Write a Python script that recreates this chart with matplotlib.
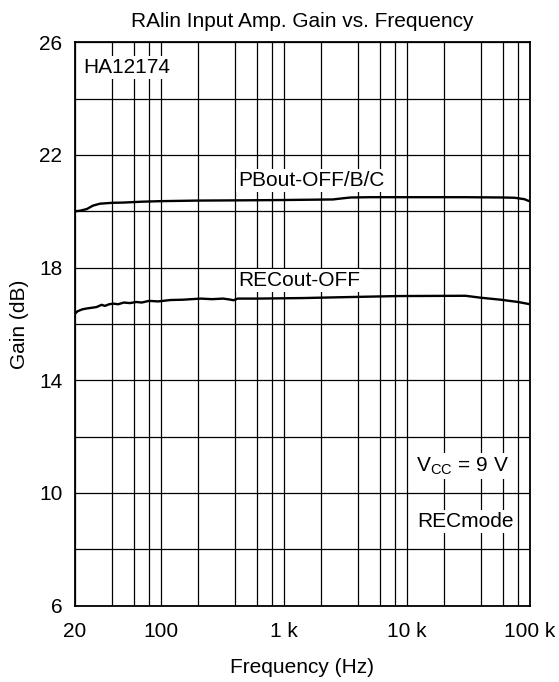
import matplotlib
matplotlib.use("Agg")
import matplotlib.pyplot as plt
from matplotlib.ticker import FixedLocator, NullLocator

plt.rcParams["font.family"] = ["Liberation Sans", "DejaVu Sans"]
plt.rcParams["mathtext.fontset"] = "custom"
plt.rcParams["mathtext.rm"] = "Liberation Sans"

# PBout-OFF/B/C curve
freq_pb = [20, 22, 25, 28, 32, 40, 50, 70, 100, 200, 500, 1000, 2500, 3000,
           3500, 5000, 10000, 30000, 60000, 75000, 90000, 100000]
gain_pb = [20.0, 20.02, 20.08, 20.2, 20.27, 20.3, 20.31, 20.34, 20.36, 20.38,
           20.39, 20.4, 20.42, 20.46, 20.49, 20.5, 20.5, 20.5, 20.49, 20.48,
           20.43, 20.35]

# RECout-OFF curve
freq_rec = [20, 21, 23, 25, 28, 30, 33, 35, 38, 41, 45, 50, 56, 63, 70, 80, 95,
            120, 150, 210, 260, 320, 360, 390, 420, 600, 1450, 3000, 8400,
            30000, 40000, 58000, 80000, 100000]
gain_rec = [16.36, 16.45, 16.52, 16.55, 16.58, 16.6, 16.68, 16.64, 16.7, 16.72,
            16.7, 16.76, 16.74, 16.78, 16.76, 16.82, 16.8, 16.85, 16.86, 16.9,
            16.88, 16.9, 16.87, 16.84, 16.9, 16.9, 16.92, 16.95, 16.99, 17.0,
            16.93, 16.86, 16.78, 16.7]

grid_freqs = [20, 40, 60, 80, 100, 200, 400, 600, 800, 1000, 2000, 4000, 6000,
              8000, 10000, 20000, 40000, 60000, 80000, 100000]
x_ticks = [20, 100, 1000, 10000, 100000]
x_tick_labels = ["20", "100", "1 k", "10 k", "100 k"]
y_ticks = [6, 10, 14, 18, 22, 26]
y_grid = [6, 8, 10, 12, 14, 16, 18, 20, 22, 24, 26]

fs = 15

fig = plt.figure(figsize=(5.59, 6.82), dpi=100)
ax = fig.add_axes([0.134, 0.112, 0.814, 0.826])

ax.set_xscale("log")
ax.set_xlim(20, 100000)
ax.set_ylim(6, 26)

for f in grid_freqs:
    ax.axvline(f, color="black", linewidth=0.9, zorder=1)
for g in y_grid:
    ax.axhline(g, color="black", linewidth=0.9, zorder=1)

ax.plot(freq_pb, gain_pb, color="black", linewidth=1.7, zorder=3)
ax.plot(freq_rec, gain_rec, color="black", linewidth=1.7, zorder=3)

ax.xaxis.set_major_locator(FixedLocator(x_ticks))
ax.xaxis.set_minor_locator(NullLocator())
ax.set_xticklabels(x_tick_labels)
ax.set_yticks(y_ticks)
ax.tick_params(axis="x", length=0, labelsize=fs, pad=12)
ax.tick_params(axis="y", length=0, labelsize=fs, pad=9)

for s in ax.spines.values():
    s.set_linewidth(1.3)
    s.set_zorder(4)

ax.set_title("RAlin Input Amp. Gain vs. Frequency", fontsize=fs, pad=11)
ax.set_xlabel("Frequency (Hz)", fontsize=fs, labelpad=12)
ax.set_ylabel("Gain (dB)", fontsize=fs, labelpad=7)

box = dict(facecolor="white", edgecolor="none", pad=1.5)
ax.text(23.5, 25.1, "HA12174", fontsize=fs, va="center", ha="left", bbox=box, zorder=2)
ax.text(425, 21.1, "PBout-OFF/B/C", fontsize=fs, va="center", ha="left", bbox=box, zorder=2)
ax.text(425, 17.55, "RECout-OFF", fontsize=fs, va="center", ha="left", bbox=box, zorder=2)
ax.text(11800, 10.95, r"V$_{\rm CC}$ = 9 V", fontsize=fs, va="center", ha="left", bbox=box, zorder=2)
ax.text(12200, 9.0, "RECmode", fontsize=fs, va="center", ha="left", bbox=box, zorder=2)

fig.savefig("out.png", dpi=100)
